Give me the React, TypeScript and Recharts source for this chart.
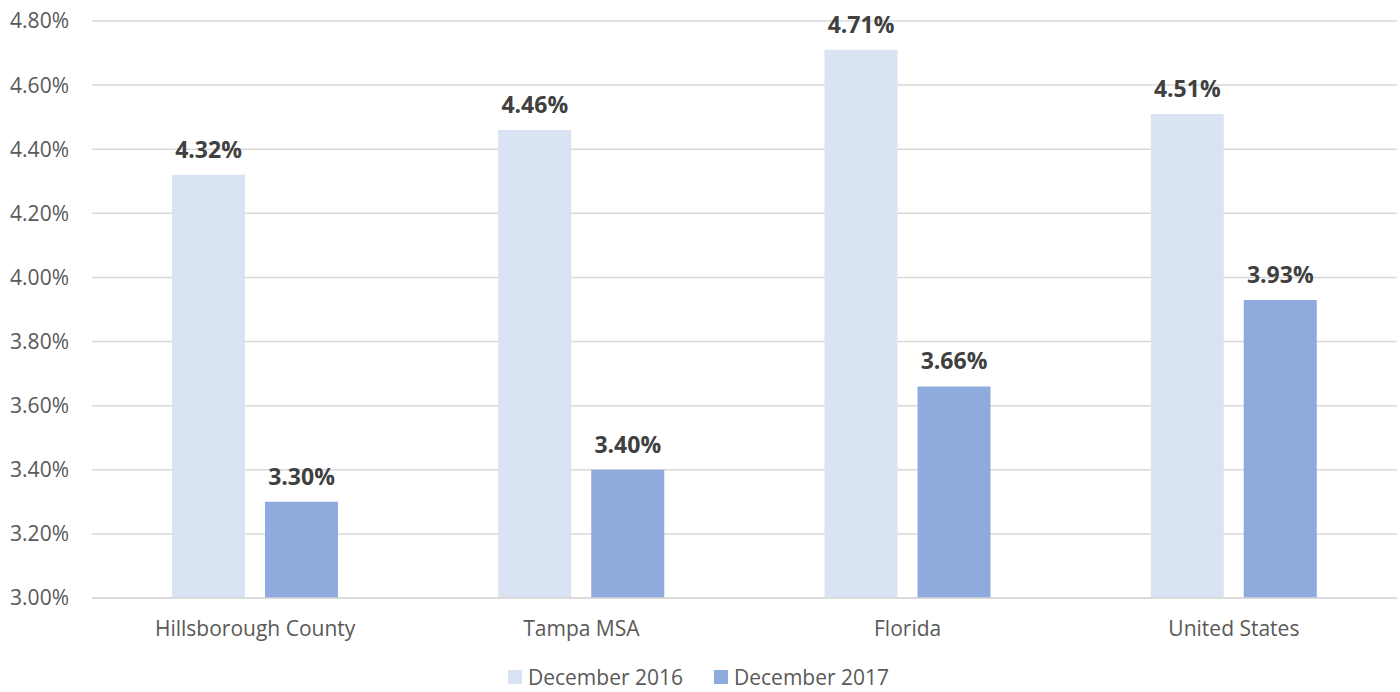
import { Bar, BarChart, CartesianGrid, LabelList, Legend, XAxis, YAxis } from 'recharts'

const regions = ['Hillsborough County', 'Tampa MSA', 'Florida', 'United States']
const dec2016 = [4.32, 4.46, 4.71, 4.51]
const dec2017 = [3.30, 3.40, 3.66, 3.93]
const yTicks = [3.0, 3.2, 3.4, 3.6, 3.8, 4.0, 4.2, 4.4, 4.6, 4.8]

const chartData = regions.map((region, i) => ({
    region,
    dec2016: dec2016[i],
    dec2017: dec2017[i],
}))

const font = '"Open Sans", sans-serif'
const pct = (v: number) => `${Number(v).toFixed(2)}%`

const legendItems = [
    { name: 'December 2016', color: '#dae3f3' },
    { name: 'December 2017', color: '#8faadc' },
]

const LegendContent = () => (
    <div style={{ display: 'flex', justifyContent: 'center', alignItems: 'flex-start', gap: 31, fontFamily: font, fontSize: 21, color: '#595959', height: 44, paddingTop: 19, boxSizing: 'border-box' }}>
        {legendItems.map((item) => (
            <div key={item.name} style={{ display: 'flex', alignItems: 'center', lineHeight: '20px', height: 20 }}>
                <span style={{ display: 'inline-block', width: 14, height: 14, background: item.color, marginRight: 6 }} />
                <span>{item.name}</span>
            </div>
        ))}
    </div>
)

const App = () => {
    return (
        <div style={{ position: 'absolute', left: 0, top: 0, width: 1400, height: 692, background: '#fff', fontFamily: font }}>
            <BarChart
                width={1400}
                height={692}
                data={chartData}
                margin={{ top: 21, right: 3, left: 0, bottom: 0 }}
                barCategoryGap={80}
                barGap={20}
            >
                <CartesianGrid vertical={false} stroke="#d9d9d9" strokeWidth={1.5} />
                <XAxis
                    dataKey="region"
                    axisLine={{ stroke: '#d9d9d9', strokeWidth: 1.5 }}
                    tickLine={false}
                    tick={{ fontSize: 21, fill: '#595959', fontFamily: font }}
                    tickMargin={17}
                    height={50}
                />
                <YAxis
                    domain={[3.0, 4.8]}
                    ticks={yTicks}
                    tickFormatter={pct}
                    axisLine={false}
                    tickLine={false}
                    tickSize={0}
                    tickMargin={23}
                    width={92}
                    tick={{ fontSize: 21, fill: '#595959', fontFamily: font }}
                    allowDataOverflow
                />
                <Legend verticalAlign="bottom" height={44} content={<LegendContent />} />
                <Bar dataKey="dec2016" name="December 2016" fill="#dae3f3" isAnimationActive={false}>
                    <LabelList dataKey="dec2016" position="top" offset={17} formatter={pct}
                        style={{ fontSize: 23, fontWeight: 700, fill: '#404040', fontFamily: font }} />
                </Bar>
                <Bar dataKey="dec2017" name="December 2017" fill="#8faadc" isAnimationActive={false}>
                    <LabelList dataKey="dec2017" position="top" offset={17} formatter={pct}
                        style={{ fontSize: 23, fontWeight: 700, fill: '#404040', fontFamily: font }} />
                </Bar>
            </BarChart>
        </div>
    )
}

export default App
